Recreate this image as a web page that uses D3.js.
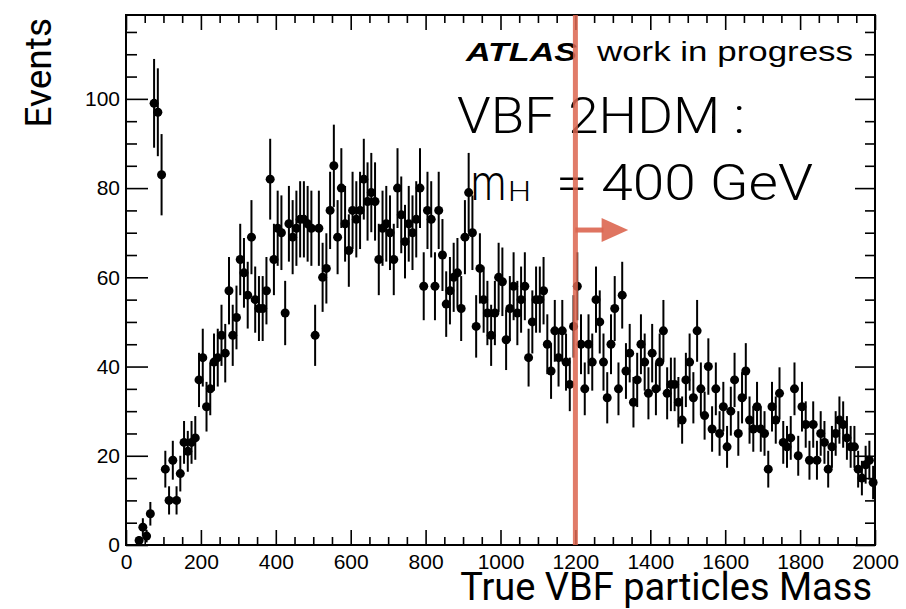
<!DOCTYPE html>
<html><head><meta charset="utf-8">
<script src="https://cdn.jsdelivr.net/npm/d3@7"></script>
<style>body{margin:0;background:#fff;} svg{display:block}</style>
</head><body>
<svg id="c" width="906" height="609"></svg>
<script>
// Histogram: bins of width 10 starting at 30 (first drawn bin 30-40)
const binLow = 30, binWidth = 10;
const counts = [
  1, 4, 2, 7, 99, 97, 83, 17, 10, 19,
  10, 16, 23, 21, 23, 24, 37, 42, 31, 35,
  41, 42, 47, 43, 57, 47, 51, 64, 61, 56,
  69, 55, 53, 53, 57, 82, 64, 71, 70, 52,
  72, 69, 71, 73, 73, 72, 71, 47, 71, 60,
  62, 75, 85, 69, 80, 72, 66, 75, 73, 75,
  82, 77, 79, 77, 64, 71, 72, 70, 64, 80,
  74, 68, 72, 70, 73, 80, 58, 75, 73, 58,
  75, 65, 54, 57, 60, 61, 53, 69, 79, 70,
  49, 62, 55, 52, 47, 52, 60, 59, 46, 53,
  58, 52, 55, 58, 42, 50, 55, 55, 57, 45,
  39, 48, 42, 48, 41, 36, 49, 58, 45, 35,
  45, 41, 55, 50, 41, 33, 45, 53, 35, 56,
  39, 43, 32, 37, 45, 41, 34, 43, 35, 41,
  48, 34, 36, 36, 32, 28, 37, 41, 33, 48,
  35, 29, 40, 26, 35, 25, 31, 22, 30, 37,
  25, 33, 39, 28, 26, 31, 26, 25, 17, 31,
  28, 34, 23, 22, 24, 35, 20, 31, 27, 19,
  27, 19, 25, 23, 17, 22, 25, 28, 27, 24,
  22, 22, 17, 15, 18, 19, 14
];
const xTickValues = [0, 200, 400, 600, 800, 1000, 1200, 1400, 1600, 1800, 2000];
const yTickValues = [0, 20, 40, 60, 80, 100];
const xDomain = [0, 2000];
const yDomain = [0, 118.8];
const cutValue = 1200;
const xTitle = "True VBF particles Mass";
const yTitle = "Events";

const svg = d3.select("#c");
const L = 126, R = 875, T = 15, B = 545;
const x = d3.scaleLinear().domain(xDomain).range([L, R]);
const y = d3.scaleLinear().domain(yDomain).range([B, T]);

const data = counts.map((c, i) => ({x: binLow + i * binWidth + binWidth / 2, y: c}));

const xMinor = d3.range(0, 2001, 50).filter(v => v % 200 !== 0);
const yMinor = d3.range(0, 119, 5).filter(v => v % 20 !== 0);

function styleAxis(g) {
  g.select(".domain").remove();
  g.selectAll("line").attr("stroke", "#000").attr("stroke-width", 1.6);
}
function noText(g) { g.selectAll("text").remove(); }
const tickFont = "'Liberation Sans', Arial, sans-serif";
// bottom
svg.append("g").attr("transform", `translate(0,${B})`)
  .call(d3.axisBottom(x).tickValues(xTickValues).tickSize(-15).tickPadding(9).tickFormat(d3.format("d")))
  .call(styleAxis)
  .call(g => g.selectAll("text").attr("font-family", tickFont).attr("font-size", 21).attr("fill", "#000"));
svg.append("g").attr("transform", `translate(0,${B})`)
  .call(d3.axisBottom(x).tickValues(xMinor).tickSize(-8))
  .call(styleAxis).call(noText);
// top
svg.append("g").attr("transform", `translate(0,${T})`)
  .call(d3.axisTop(x).tickValues(xTickValues).tickSize(-15))
  .call(styleAxis).call(noText);
svg.append("g").attr("transform", `translate(0,${T})`)
  .call(d3.axisTop(x).tickValues(xMinor).tickSize(-8))
  .call(styleAxis).call(noText);
// left
svg.append("g").attr("transform", `translate(${L},0)`)
  .call(d3.axisLeft(y).tickValues(yTickValues).tickSize(-22).tickPadding(6).tickFormat(d3.format("d")))
  .call(styleAxis)
  .call(g => g.selectAll("text").attr("font-family", tickFont).attr("font-size", 21).attr("fill", "#000"));
svg.append("g").attr("transform", `translate(${L},0)`)
  .call(d3.axisLeft(y).tickValues(yMinor).tickSize(-11))
  .call(styleAxis).call(noText);
// right
svg.append("g").attr("transform", `translate(${R},0)`)
  .call(d3.axisRight(y).tickValues(yTickValues).tickSize(-20))
  .call(styleAxis).call(noText);
svg.append("g").attr("transform", `translate(${R},0)`)
  .call(d3.axisRight(y).tickValues(yMinor).tickSize(-10))
  .call(styleAxis).call(noText);

// frame
svg.append("rect").attr("x", L).attr("y", T).attr("width", R - L).attr("height", B - T)
  .attr("fill", "none").attr("stroke", "#000").attr("stroke-width", 2);

// error bars + markers
const pts = svg.append("g");
pts.selectAll("line.err").data(data.filter(d => d.y > 0)).join("line")
  .attr("class", "err")
  .attr("x1", d => x(d.x)).attr("x2", d => x(d.x))
  .attr("y1", d => y(Math.max(0, d.y - Math.sqrt(d.y)))).attr("y2", d => y(d.y + Math.sqrt(d.y)))
  .attr("stroke", "#000").attr("stroke-width", 2);
pts.selectAll("circle").data(data.filter(d => d.y > 0)).join("circle")
  .attr("cx", d => x(d.x)).attr("cy", d => y(d.y)).attr("r", 4.5).attr("fill", "#000");

// texts
const light = "Roboto, 'Helvetica Neue', sans-serif";
function txt(xp, yp, s, size, len, opts = {}) {
  const t = svg.append("text").attr("x", xp).attr("y", yp)
    .attr("font-family", opts.family || light).attr("font-size", size).attr("fill", "#000")
    .attr("font-weight", opts.weight || 300).text(s);
  if (opts.style) t.attr("font-style", opts.style);
  if (len) t.attr("textLength", len).attr("lengthAdjust", "spacingAndGlyphs");
  return t;
}
txt(466, 61, "ATLAS", 25, 111, {family: tickFont, weight: "bold", style: "italic"});
txt(597, 61, "work in progress", 27, 256, {family: tickFont, weight: "normal"});
txt(457, 133, "VBF 2HDM :", 50, 288);
txt(471, 200, "m", 50, 35);
txt(508, 201, "H", 28, 23);
txt(556, 200, "= 400 GeV", 50, 257);

svg.append("text").attr("x", 872).attr("y", 600).attr("text-anchor", "end")
  .attr("font-family", light).attr("font-weight", 400).attr("font-size", 38).attr("fill", "#000")
  .text(xTitle);
svg.append("text").attr("transform", "translate(51,18) rotate(-90)").attr("text-anchor", "end")
  .attr("font-family", light).attr("font-weight", 400).attr("font-size", 37).attr("fill", "#000")
  .text(yTitle);

// cut line + arrow
const red = "#dc6650";
svg.append("line").attr("x1", x(cutValue)).attr("x2", x(cutValue)).attr("y1", y(yDomain[1])).attr("y2", y(0))
  .attr("stroke", red).attr("stroke-width", 5).attr("opacity", 0.85);
const ay = y(70.6);
svg.append("line").attr("x1", x(cutValue)).attr("x2", x(1275)).attr("y1", ay).attr("y2", ay)
  .attr("stroke", red).attr("stroke-width", 5).attr("opacity", 0.9);
svg.append("path")
  .attr("d", `M${x(1270)},${ay - 12}L${x(1341)},${ay}L${x(1270)},${ay + 12}Z`)
  .attr("fill", red).attr("opacity", 0.9);
</script>
</body></html>
